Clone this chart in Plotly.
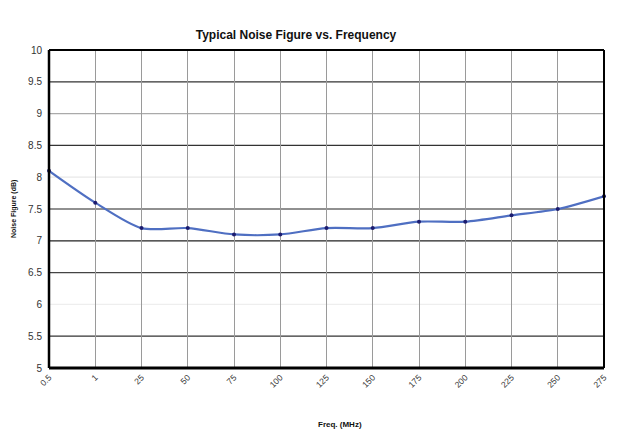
import plotly.graph_objects as go

freq_labels = ["0.5", "1", "25", "50", "75", "100", "125", "150", "175", "200", "225", "250", "275"]
noise_figure = [8.1, 7.6, 7.2, 7.2, 7.1, 7.1, 7.2, 7.2, 7.3, 7.3, 7.4, 7.5, 7.7]
y_ticks = [5, 5.5, 6, 6.5, 7, 7.5, 8, 8.5, 9, 9.5, 10]
y_tick_text = ["5", "5.5", "6", "6.5", "7", "7.5", "8", "8.5", "9", "9.5", "10"]
grid_colors = ["#000000", "#333333", "#eeeeee", "#444444", "#222222", "#222222",
               "#e8e8e8", "#333333", "#aaaaaa", "#333333", "#000000"]

fig = go.Figure()
fig.add_trace(go.Scatter(
    x=freq_labels, y=noise_figure, mode="lines+markers",
    line=dict(color="#4f6fc2", width=2.2, shape="spline", smoothing=0.8),
    marker=dict(color="#1c1c70", size=4),
    showlegend=False, cliponaxis=False,
))

shapes = []
for yv, c in zip(y_ticks[1:-1], grid_colors[1:-1]):
    shapes.append(dict(type="line", xref="paper", x0=0, x1=1, yref="y", y0=yv, y1=yv,
                       line=dict(color=c, width=1.2), layer="below"))
# borders
shapes.append(dict(type="line", xref="paper", yref="paper", x0=0, x1=1, y0=1, y1=1, line=dict(color="#000", width=2)))
shapes.append(dict(type="line", xref="paper", yref="paper", x0=1, x1=1, y0=0, y1=1, line=dict(color="#000", width=2)))
shapes.append(dict(type="line", xref="paper", yref="paper", x0=0, x1=0, y0=0, y1=1, line=dict(color="#000", width=2.5)))
shapes.append(dict(type="line", xref="paper", yref="paper", x0=0, x1=1, y0=0, y1=0, line=dict(color="#000", width=3)))

fig.update_layout(
    width=634, height=444,
    margin=dict(l=49, r=30, t=50, b=76),
    paper_bgcolor="white", plot_bgcolor="white",
    font=dict(family="Liberation Sans, Arial, sans-serif", color="#222"),
    title=dict(text="<b>Typical Noise Figure vs. Frequency</b>", x=296 / 634, xref="container",
               xanchor="center", y=1 - 35 / 444, yanchor="middle", yref="container",
               font=dict(size=12, color="#111")),
    xaxis=dict(type="category", range=[0, 12], showgrid=True, gridcolor="#9a9a9a", gridwidth=1,
               tickangle=-45, tickfont=dict(size=8.5, color="#333"), ticks="", showline=False,
               zeroline=False, ticklabelstandoff=2),
    yaxis=dict(range=[5, 10], tickvals=y_ticks, ticktext=y_tick_text, showgrid=False,
               tickfont=dict(size=10, color="#333"), ticks="", showline=False, zeroline=False,
               ticklabelstandoff=6),
    shapes=shapes,
    annotations=[
        dict(text="<b>Freq. (MHz)</b>", xref="paper", yref="paper", x=(340 - 49) / 555, y=-56 / 318,
             showarrow=False, font=dict(size=8, color="#111"), xanchor="center", yanchor="middle"),
        dict(text="<b>Noise Figure (dB)</b>", xref="paper", yref="paper", x=-35 / 555, y=0.5,
             showarrow=False, font=dict(size=7, color="#111"), textangle=-90,
             xanchor="center", yanchor="middle"),
    ],
)

fig.write_html("out.html")
